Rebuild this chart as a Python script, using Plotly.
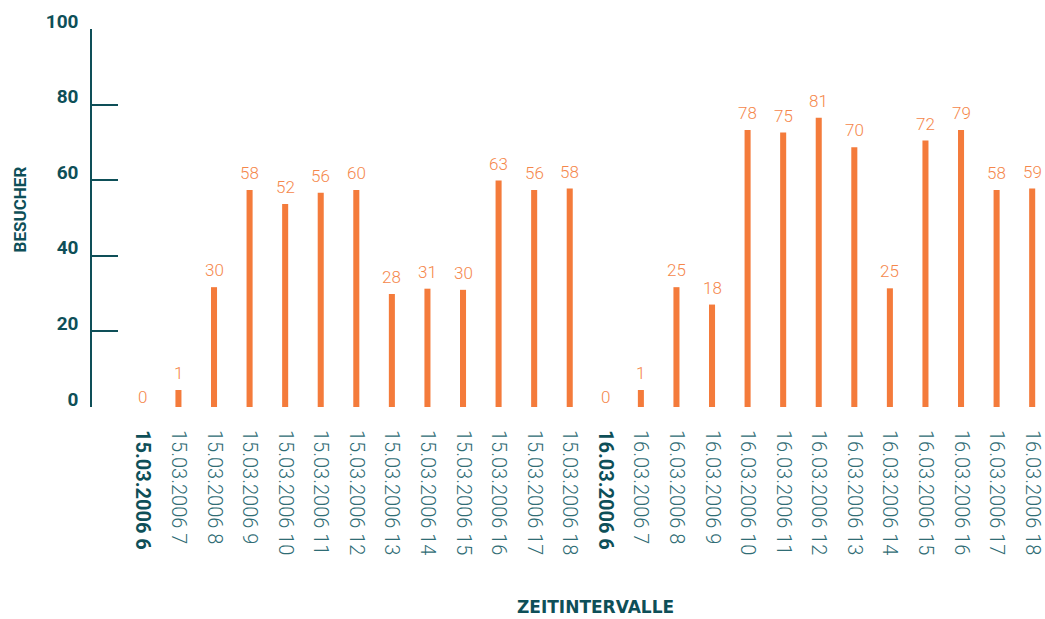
import plotly.graph_objects as go

# Data
days = ["15.03.2006", "16.03.2006"]
hours = [6, 7, 8, 9, 10, 11, 12, 13, 14, 15, 16, 17, 18]
bar_heights_day1 = [0, 4.5, 31.7, 57.4, 53.7, 56.7, 57.4, 29.9, 31.3, 31.0, 59.9, 57.4, 57.8]
bar_heights_day2 = [0, 4.5, 31.7, 27.1, 73.3, 72.6, 76.5, 68.7, 31.4, 70.5, 73.3, 57.4, 57.8]
labels_day1 = [0, 1, 30, 58, 52, 56, 60, 28, 31, 30, 63, 56, 58]
labels_day2 = [0, 1, 25, 18, 78, 75, 81, 70, 25, 72, 79, 58, 59]
y_ticks = [0, 20, 40, 60, 80, 100]

heights = bar_heights_day1 + bar_heights_day2
labels = labels_day1 + labels_day2
cats = [f"{d} {h}" for d in days for h in hours]
xs = list(range(len(cats)))

DARK = "#0e4f58"
MID = "#2f6c74"
ORANGE = "#f47b3b"
ORANGE_TXT = "#f5874b"

ticktext = []
for c in cats:
    if c.endswith(" 6"):
        ticktext.append(f"<b><span style='color:{DARK}'>{c}</span></b>")
    else:
        ticktext.append(c)

W, H = 1045, 619
L, T, B = 92, 29, 212
PW, PH = W - L, H - T - B

fig = go.Figure()
fig.add_trace(go.Bar(x=xs, y=heights, width=0.17, marker=dict(color=ORANGE, line=dict(width=0)),
                     hoverinfo="skip"))

annotations = []
for x, h, lab in zip(xs, heights, labels):
    annotations.append(dict(x=x, y=h, xref="x", yref="y", text=str(lab), showarrow=False,
                            yanchor="bottom", yshift=5 if h > 0 else -2,
                            font=dict(family="Roboto", size=17, color=ORANGE_TXT, weight=300)))

annotations.append(dict(x=(598 - L) / PW, y=(T + PH - 607) / PH, xref="paper", yref="paper",
                        text="<b>ZEITINTERVALLE</b>", showarrow=False, xanchor="center", yanchor="middle",
                        font=dict(family="DejaVu Sans", size=17, color=DARK)))
annotations.append(dict(x=(20 - L) / PW, y=(T + PH - 209) / PH, xref="paper", yref="paper",
                        text="<b>BESUCHER</b>", showarrow=False, textangle=-90, xanchor="center", yanchor="middle",
                        font=dict(family="Roboto", size=17, color=DARK)))

fig.update_layout(
    width=W, height=H,
    margin=dict(l=L, r=0, t=T, b=B, pad=0),
    paper_bgcolor="white", plot_bgcolor="white",
    showlegend=False,
    annotations=annotations,
    xaxis=dict(range=[-1.43, 25.22], tickvals=xs, ticktext=ticktext, tickangle=90,
               showgrid=False, zeroline=False, showline=False, ticks="",
               ticklabelstandoff=22, ticklabeloverflow="allow",
               tickfont=dict(family="Roboto", size=20, color=MID, weight=300)),
    yaxis=dict(range=[0, 100], tickvals=y_ticks, showgrid=False, zeroline=False,
               showline=True, linecolor=DARK, linewidth=1.5,
               ticks="inside", ticklen=26, tickwidth=1.5, tickcolor=DARK,
               ticklabelstandoff=8, ticklabelshift=-8,
               tickfont=dict(family="Roboto", size=19, color=DARK, weight="bold")),
)

fig.write_html("out.html", config={"displayModeBar": False},
               post_script="document.body.style.margin='0';document.body.style.overflow='hidden';")
